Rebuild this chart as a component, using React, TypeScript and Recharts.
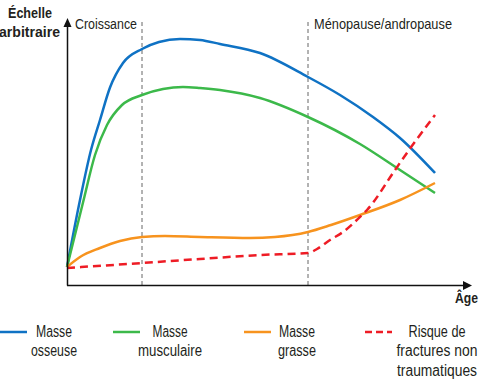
import { LineChart, Line, XAxis, YAxis, ReferenceLine } from 'recharts'

// arbitrary age scale 0-100, arbitrary value scale 0-106
const bone = [
  { x: 0, y: 7.2 }, { x: 3.25, y: 34 }, { x: 6, y: 54 }, { x: 8.25, y: 66 },
  { x: 10.75, y: 79 }, { x: 14, y: 88.8 }, { x: 18.75, y: 94.4 }, { x: 23, y: 97.2 },
  { x: 28.25, y: 98.4 }, { x: 33.25, y: 98 }, { x: 38.25, y: 96.4 }, { x: 48.25, y: 92.8 },
  { x: 60.25, y: 83.2 }, { x: 68.25, y: 76 }, { x: 76.5, y: 67.2 }, { x: 83.25, y: 58.8 },
  { x: 92, y: 44.8 },
]
const muscle = [
  { x: 0, y: 7.2 }, { x: 4, y: 33 }, { x: 7, y: 52 }, { x: 10, y: 64 },
  { x: 13.75, y: 72 }, { x: 18.75, y: 76 }, { x: 24, y: 78.4 }, { x: 29, y: 79.2 },
  { x: 33.25, y: 78.8 }, { x: 38.25, y: 78 }, { x: 48.25, y: 74.8 }, { x: 60.25, y: 67.2 },
  { x: 73.25, y: 56.4 }, { x: 83.25, y: 46 }, { x: 92, y: 36.8 },
]
const fat = [
  { x: 0, y: 7.2 }, { x: 3.25, y: 11.2 }, { x: 8.25, y: 14.8 }, { x: 13.25, y: 17.6 },
  { x: 18.75, y: 19.2 }, { x: 24.5, y: 19.6 }, { x: 33.25, y: 19.2 }, { x: 45.75, y: 18.8 },
  { x: 52, y: 19.2 }, { x: 60.25, y: 21.2 }, { x: 66, y: 24 }, { x: 73.25, y: 28 },
  { x: 83.25, y: 34 }, { x: 92, y: 40.8 },
]
const fracture = [
  { x: 0, y: 6.8 }, { x: 18.75, y: 8.8 }, { x: 33.25, y: 10.4 }, { x: 48.25, y: 12 },
  { x: 60.25, y: 12.8 }, { x: 62.5, y: 14.4 }, { x: 65.75, y: 18 }, { x: 69, y: 21.2 },
  { x: 73.75, y: 28 }, { x: 75, y: 30 }, { x: 82, y: 46 }, { x: 85.5, y: 54 },
  { x: 92, y: 68 },
]

const phases = [
  { x: 18.75, label: 'Croissance' },
  { x: 60.25, label: 'Ménopause/andropause' },
]

const series = [
  { key: 'bone', data: bone, color: '#0f72c4', dash: undefined, label: ['Masse', 'osseuse'] },
  { key: 'muscle', data: muscle, color: '#3cb94a', dash: undefined, label: ['Masse', 'musculaire'] },
  { key: 'fat', data: fat, color: '#f7931e', dash: undefined, label: ['Masse', 'grasse'] },
  { key: 'fracture', data: fracture, color: '#ee1c25', dash: '8 5', label: ['Risque de', 'fractures non', 'traumatiques'] },
]

const FONT = '"Liberation Sans", Arial, sans-serif'
const INK = '#231f20'

// legend line start x, label centre x, label widths per line
const legendPos = [
  { lx: 0, tx: 54, w: [36, 46] },
  { lx: 113, tx: 170, w: [35, 64] },
  { lx: 244, tx: 297, w: [36, 38] },
  { lx: 365, tx: 437, w: [57, 81, 80] },
]

export default function App() {
  return (
    <div style={{ position: 'absolute', left: 0, top: 0, width: 479, height: 383, background: '#fff', fontFamily: FONT }}>
      <LineChart width={479} height={383} data={bone} margin={{ top: 20, right: 12, left: 67, bottom: 98 }}>
        <XAxis dataKey="x" type="number" domain={[0, 100]} hide />
        <YAxis type="number" domain={[0, 106]} hide />
        {phases.map(p => (
          <ReferenceLine key={p.label} x={p.x} stroke="#666" strokeDasharray="4 3" strokeWidth={1} />
        ))}
        {series.map(s => (
          <Line key={s.key} data={s.data} dataKey="y" type="monotone" stroke={s.color} strokeWidth={2.5}
            strokeDasharray={s.dash} dot={false} activeDot={false} isAnimationActive={false} />
        ))}
      </LineChart>
      <svg width={479} height={383} style={{ position: 'absolute', left: 0, top: 0, pointerEvents: 'none' }}>
        {/* axes with arrowheads */}
        <line x1={67.5} x2={67.5} y1={24} y2={285.5} stroke="#111" strokeWidth={1.5} />
        <line x1={67} x2={465} y1={285.5} y2={285.5} stroke="#111" strokeWidth={1.5} />
        <polygon points="63.5,27 71.5,27 67.5,18" fill="#111" />
        <polygon points="463,281 463,290 472,285.5" fill="#111" />
        <text x={8} y={18} fontSize={14} fontWeight="bold" fill={INK} textLength={44} lengthAdjust="spacingAndGlyphs">Échelle</text>
        <text x={-1} y={37} fontSize={14} fontWeight="bold" fill={INK} textLength={61} lengthAdjust="spacingAndGlyphs">arbitraire</text>
        <text x={75} y={29} fontSize={14} fill={INK} textLength={62} lengthAdjust="spacingAndGlyphs">{phases[0].label}</text>
        <text x={314} y={28.5} fontSize={15} fill={INK} textLength={138} lengthAdjust="spacingAndGlyphs">{phases[1].label}</text>
        <text x={455} y={303} fontSize={14} fontWeight="bold" fill={INK} textLength={23} lengthAdjust="spacingAndGlyphs">Âge</text>
        {series.map((s, i) => (
          <g key={s.key}>
            <line x1={legendPos[i].lx} x2={legendPos[i].lx + 27} y1={332} y2={332} stroke={s.color}
              strokeWidth={2.5} strokeDasharray={s.dash ? '7 4' : undefined} />
            {s.label.map((t, j) => (
              <text key={t} x={legendPos[i].tx - legendPos[i].w[j] / 2} y={337 + j * 19.3} fontSize={16} fill={INK}
                textLength={legendPos[i].w[j]} lengthAdjust="spacingAndGlyphs">{t}</text>
            ))}
          </g>
        ))}
      </svg>
    </div>
  )
}
